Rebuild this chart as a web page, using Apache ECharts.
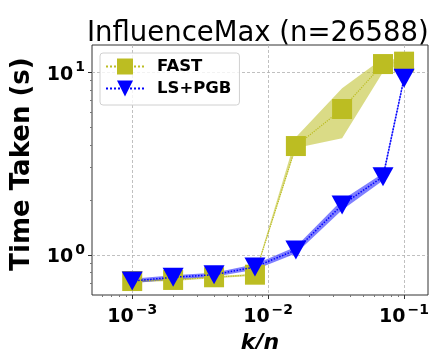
<!DOCTYPE html>
<html>
<head>
<meta charset="utf-8">
<script src="https://cdn.jsdelivr.net/npm/echarts@6/dist/echarts.min.js"></script>
<style>html,body{margin:0;padding:0;background:#fff}#c{width:433px;height:349px}</style>
</head>
<body>
<div id="c"></div>
<script>
const kn = [0.001, 0.002, 0.004, 0.008, 0.016, 0.035, 0.07, 0.1];
const fastTime = [0.72, 0.73, 0.755, 0.78, 3.94, 6.28, 11.06, 11.4];
const fastLow  = [0.71, 0.72, 0.745, 0.77, 3.85, 4.34, 10.0, 11.2];
const fastHigh = [0.73, 0.74, 0.765, 0.79, 4.40, 8.15, 11.9, 11.6];
const lsTime = [0.72, 0.755, 0.78, 0.86, 1.065, 1.876, 2.68, 9.24];
const lsLow  = [0.70, 0.735, 0.76, 0.83, 1.02, 1.76, 2.55, 8.9];
const lsHigh = [0.74, 0.775, 0.80, 0.89, 1.11, 2.00, 2.80, 9.6];
const xMajor = [0.001, 0.01, 0.1];
const xMinor = [0.0006, 0.0007, 0.0008, 0.0009, 0.002, 0.003, 0.004, 0.005, 0.006, 0.007, 0.008, 0.009, 0.02, 0.03, 0.04, 0.05, 0.06, 0.07, 0.08, 0.09];
const yMajor = [1, 10];
const yMinor = [0.7, 0.8, 0.9, 2, 3, 4, 5, 6, 7, 8, 9];
const xMin = 0.000506, xMax = 0.15, yMin = 0.604, yMax = 14.06;

const FONT = 'DejaVu Sans';
const OLIVE = '#bcbd22';
const BLUE = '#0000ff';

function powLabel(v) {
  const e = Math.round(Math.log10(v));
  const s = e < 0 ? '\u2212' + (-e) : String(e);
  return '{b|10}{s|' + s + '}';
}
const richLbl = {
  b: { fontFamily: FONT, fontWeight: 'bold', fontSize: 19, color: '#000', lineHeight: 24, verticalAlign: 'bottom' },
  s: { fontFamily: FONT, fontWeight: 'bold', fontSize: 14, color: '#000', lineHeight: 24, verticalAlign: 'top', padding: [0, 0, 0, 2] }
};

function bandSeries(low, high, color) {
  return {
    type: 'custom',
    xAxisIndex: 0, yAxisIndex: 0,
    silent: true,
    z: 1,
    data: [[kn[0], low[0]]],
    renderItem: function (params, api) {
      const pts = [];
      for (let i = 0; i < kn.length; i++) pts.push(api.coord([kn[i], high[i]]));
      for (let i = kn.length - 1; i >= 0; i--) pts.push(api.coord([kn[i], low[i]]));
      return { type: 'polygon', shape: { points: pts }, style: { fill: color, stroke: null } };
    }
  };
}

const chart = echarts.init(document.getElementById('c'));
chart.setOption({
  animation: false,
  title: {
    text: 'InfluenceMax (n=26588)',
    left: 82, top: 15,
    textStyle: { fontFamily: FONT, fontWeight: 'normal', fontSize: 27.5, color: '#000' }
  },
  grid: { left: 92, right: 5, top: 45, bottom: 54, containLabel: false, outerBoundsMode: 'none', show: true, borderColor: '#333', borderWidth: 1, backgroundColor: 'transparent' },
  legend: {
    data: ['FAST', 'LS+PGB'],
    orient: 'vertical',
    left: 100, top: 53,
    itemWidth: 38, itemHeight: 20, itemGap: 5,
    padding: [5, 8, 8, 5],
    borderColor: '#d0d0d0', borderWidth: 1, borderRadius: 3,
    backgroundColor: 'rgba(255,255,255,0.8)',
    textStyle: { fontFamily: FONT, fontWeight: 'bold', fontSize: 16.5, color: '#000', padding: [0, 0, 0, 8] }
  },
  xAxis: [{
    type: 'log', logBase: 10, min: xMin, max: xMax,
    name: 'k/n', nameLocation: 'middle', nameGap: 30,
    nameTextStyle: { fontFamily: FONT, fontWeight: 'bold', fontStyle: 'italic', fontSize: 22, color: '#000' },
    axisLine: { show: false },
    axisTick: { show: true, customValues: xMajor, length: 4, lineStyle: { color: '#333' } },
    axisLabel: { customValues: xMajor, formatter: powLabel, rich: richLbl, margin: 8 },
    splitLine: { show: true, lineStyle: { color: '#b0b0b0', type: [3, 2], width: 0.8 } },
    minorTick: { show: false }
  }, {
    type: 'log', logBase: 10, min: xMin, max: xMax, position: 'bottom',
    axisLine: { show: false },
    axisTick: { show: true, customValues: xMinor, length: 2, lineStyle: { color: '#777' } },
    axisLabel: { show: false },
    splitLine: { show: false }
  }],
  yAxis: [{
    type: 'log', logBase: 10, min: yMin, max: yMax,
    name: 'Time Taken (s)', nameLocation: 'middle', nameGap: 57,
    nameTextStyle: { fontFamily: FONT, fontWeight: 'bold', fontSize: 26, color: '#000', padding: [0, 0, 0, 12] },
    axisLine: { show: false },
    axisTick: { show: true, customValues: yMajor, length: 4, lineStyle: { color: '#333' } },
    axisLabel: { customValues: yMajor, formatter: powLabel, rich: richLbl, margin: 7 },
    splitLine: { show: true, lineStyle: { color: '#b0b0b0', type: [3, 2], width: 0.8 } }
  }, {
    type: 'log', logBase: 10, min: yMin, max: yMax, position: 'left',
    axisLine: { show: false },
    axisTick: { show: true, customValues: yMinor, length: 2, lineStyle: { color: '#777' } },
    axisLabel: { show: false },
    splitLine: { show: false }
  }],
  series: [
    bandSeries(fastLow, fastHigh, 'rgba(188,189,34,0.55)'),
    bandSeries(lsLow, lsHigh, 'rgba(0,0,255,0.5)'),
    {
      name: 'FAST', type: 'line', z: 3,
      data: kn.map((k, i) => [k, fastTime[i]]),
      symbol: 'rect', symbolSize: 20,
      itemStyle: { color: OLIVE },
      lineStyle: { color: OLIVE, width: 1.2, type: 'dotted' }
    },
    {
      name: 'LS+PGB', type: 'line', z: 4,
      data: kn.map((k, i) => [k, lsTime[i]]),
      symbol: 'triangle', symbolRotate: 180, symbolSize: [21, 19],
      itemStyle: { color: BLUE },
      lineStyle: { color: BLUE, width: 1.5, type: 'dotted' }
    }
  ]
});
</script>
</body>
</html>
